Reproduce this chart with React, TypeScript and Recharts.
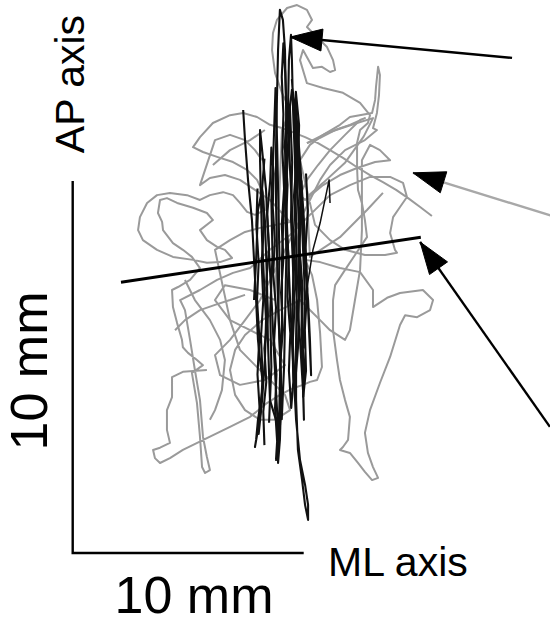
import React from "react";
import { ComposedChart, Line, XAxis, YAxis } from "recharts";

// Centre-of-pressure trajectories, [ML mm, AP mm]
const grayPath: [number, number][] = [
  [5.81, 4.92], [4.77, 4.87], [4.3, 4.73], [4.3, 4.19], [4.08, 3.84], [4.08, 3.31], [4.21, 2.96], [3.78, 2.83],
  [3.48, 2.77], [3.56, 2.55], [3.78, 2.42], [4.21, 2.55], [4.77, 2.77], [5.81, 3.09], [6.81, 3.39], [7.68, 3.66],
  [8.41, 4.03], [8.97, 4.25], [9.54, 4.43], [9.97, 4.52], [10.27, 4.6], [10.58, 4.65], [10.79, 5.0], [10.71, 5.91],
  [10.58, 6.8], [10.36, 7.47], [10.06, 7.88],
  [10.71, 7.82], [11.57, 7.66], [12.44, 7.55], [13.0, 7.07], [13.0, 6.61], [13.61, 6.86], [14.17, 6.99], [15.16, 7.07],
  [15.6, 6.8], [15.47, 6.53], [14.91, 6.34], [14.39, 6.39], [14.17, 6.13], [13.74, 5.27], [13.3, 4.57], [12.87, 3.84],
  [12.65, 3.23], [12.78, 2.69], [13.0, 2.31], [13.22, 2.02], [12.96, 1.96], [12.65, 2.18], [12.35, 2.42], [12.0, 2.69],
  [11.57, 2.77], [11.7, 2.85], [11.92, 3.04], [12.0, 3.66], [11.79, 4.11], [11.57, 4.65], [11.44, 5.19], [11.27, 5.99],
  [11.27, 6.8], [11.36, 7.2],
  [11.79, 7.61], [12.22, 8.01], [12.65, 8.41], [12.74, 8.49], [12.65, 8.95], [12.52, 9.41], [12.35, 9.76], [12.31, 10.37],
  [12.31, 11.02], [12.44, 11.37], [12.78, 11.56], [12.87, 11.77], [12.44, 12.1], [11.7, 12.37], [10.84, 12.5], [10.14, 12.63],
  [9.84, 13.25], [9.97, 13.52], [10.4, 13.04], [10.79, 13.07], [11.14, 12.93], [11.36, 12.98], [11.27, 13.25], [11.01, 13.6],
  [10.4, 13.98], [10.14, 14.14], [10.36, 14.33], [10.14, 14.6], [9.71, 14.73], [9.28, 14.65], [8.84, 14.33], [8.67, 13.98],
  [8.63, 13.52], [8.76, 12.9], [9.06, 12.37], [9.41, 11.91],
  [9.1, 11.42], [8.54, 11.51], [7.98, 11.72], [7.38, 11.83], [6.81, 11.77], [6.07, 11.56], [5.51, 11.18], [5.21, 10.91],
  [5.64, 10.78], [6.25, 10.65], [6.94, 10.51], [7.55, 10.3], [7.98, 10.03], [8.24, 9.68], [8.32, 9.22],
  [7.89, 9.09], [7.55, 9.17], [7.24, 9.41], [6.94, 9.62], [6.51, 9.7], [5.94, 9.62], [5.51, 9.49], [4.95, 9.62],
  [4.21, 9.68], [3.65, 9.62], [3.22, 9.41], [2.91, 9.03], [2.83, 8.68], [3.04, 8.41], [3.65, 8.15], [4.34, 7.96],
  [5.21, 7.88], [5.81, 7.8], [6.38, 7.82], [6.9, 7.93], [6.59, 8.15], [6.25, 8.23], [5.81, 8.41], [5.51, 8.68],
  [6.07, 8.95], [5.81, 9.14], [5.21, 9.28], [4.52, 9.41], [4.08, 9.54], [3.78, 9.49], [3.69, 9.14], [3.87, 8.9],
  [3.91, 8.68], [4.34, 8.33], [4.77, 8.15], [5.16, 7.96], [5.51, 7.66],
  [5.08, 7.34], [4.56, 7.15], [4.3, 7.07], [4.34, 6.61], [4.52, 6.18], [4.73, 5.73], [4.77, 5.53], [4.99, 5.38],
  [5.38, 5.19], [5.64, 5.05], [5.16, 4.84], [5.38, 4.03], [5.51, 3.12], [5.6, 2.31], [5.73, 2.15], [5.94, 2.23],
  [5.81, 2.58], [5.64, 3.12], [5.51, 4.11], [5.29, 4.92], [5.08, 5.73], [4.86, 6.53], [4.65, 6.8],
  [5.51, 7.07], [6.25, 7.34], [6.94, 7.53], [7.68, 7.66], [8.54, 8.15], [9.41, 8.55], [10.27, 9.09], [11.14, 9.62],
  [12.0, 9.89], [12.87, 10.11], [13.74, 10.11], [14.3, 9.95], [14.47, 9.57], [14.17, 9.3], [13.87, 9.03], [13.74, 8.6],
  [13.95, 8.15], [14.04, 8.07], [13.52, 8.01], [12.65, 8.01], [11.79, 8.15], [11.14, 8.41], [10.49, 8.82],
  [9.84, 10.56], [10.27, 10.97], [10.84, 11.24], [11.57, 11.51], [12.0, 11.72], [12.96, 11.83], [13.09, 12.18], [13.13, 12.53],
  [13.22, 13.07], [13.3, 12.85], [13.26, 12.31], [13.17, 11.83], [13.0, 11.42], [13.17, 11.37], [12.65, 11.1], [11.79, 10.83],
  [11.14, 10.43], [10.71, 10.03], [10.27, 9.49],
  [8.11, 6.8], [7.46, 6.26], [6.81, 5.73], [6.16, 5.32], [6.38, 4.78], [7.24, 4.52], [8.32, 4.65], [9.19, 5.05],
  [8.54, 5.73], [7.68, 5.99], [6.81, 6.26], [6.16, 6.8], [6.59, 7.2], [7.68, 7.07], [8.76, 6.8],
  [9.06, 11.42], [9.49, 11.32], [10.06, 11.18], [10.62, 11.02], [11.14, 10.83], [11.7, 10.62], [12.31, 10.37], [12.87, 10.16],
  [13.43, 9.97], [14.0, 9.76], [14.52, 9.54], [15.04, 9.3], [15.55, 9.06],
];

const grayPath2: [number, number][] = [
  [10.14, 11.02], [10.71, 11.16], [11.36, 11.37], [12.0, 11.51], [12.65, 11.69], [12.44, 11.64], [11.79, 11.24], [11.14, 10.83],
  [10.62, 10.43], [10.14, 10.03], [9.84, 9.62], [10.06, 9.49], [10.84, 9.89], [11.57, 10.16], [12.31, 10.35], [13.09, 10.51],
  [13.74, 10.56], [13.3, 10.83], [12.87, 10.97], [12.52, 10.56], [12.52, 9.76], [12.52, 8.68], [12.44, 7.61], [12.22, 6.8],
  [12.0, 5.99], [11.79, 5.73], [11.14, 5.99], [10.71, 6.26], [10.27, 6.53], [9.84, 6.8], [8.97, 6.53], [8.2, 6.26],
  [7.46, 5.86], [7.03, 5.46], [6.81, 4.92], [7.03, 4.25], [7.46, 3.84], [8.11, 3.58], [8.76, 3.58], [9.41, 3.84],
  [9.19, 4.25], [8.54, 4.65], [7.89, 5.05], [7.24, 5.46], [6.81, 6.26],
  [6.16, 8.15], [6.81, 8.41], [7.46, 8.63], [8.11, 8.74], [8.76, 8.82], [9.41, 8.9], [8.54, 9.49], [7.89, 9.76],
  [7.24, 10.03], [6.59, 10.16], [5.94, 10.08], [5.51, 9.89], [6.16, 11.1], [6.81, 11.24], [7.46, 11.1], [7.89, 10.83],
  [8.2, 10.56],
];

const grayPath3: [number, number][] = [
  [4.86, 7.34], [5.29, 6.8], [5.94, 6.26], [6.38, 5.73], [6.59, 5.19], [6.46, 4.38], [6.16, 3.84], [5.94, 3.58],
];

const grayPath4: [number, number][] = [
  [4.43, 5.99], [4.86, 6.26], [5.51, 6.53], [6.16, 6.67], [6.81, 6.8], [7.46, 6.94],
];

const grayPath5: [number, number][] = [
  [10.14, 11.02], [11.01, 11.29], [12.31, 11.56], [13.0, 11.69],
  [12.6, 11.2], [11.8, 10.5], [10.84, 9.95], [10.14, 9.57],
  [10.27, 7.96], [11.57, 8.49], [12.74, 9.22], [13.43, 9.68],
];

const grayPath6: [number, number][] = [
  [6.07, 10.43], [6.81, 10.83], [7.68, 11.1], [8.32, 11.37],
];

const blackPath: [number, number][] = [
  [7.38, 11.91], [7.46, 11.1], [7.59, 10.03], [7.76, 8.95], [7.85, 7.88], [7.94, 6.8], [8.02, 5.73], [8.11, 5.19],
  [8.24, 4.52], [8.15, 4.11], [8.02, 3.58], [7.94, 3.04], [7.89, 2.85], [8.02, 3.31], [8.2, 4.11], [8.32, 5.19],
  [8.37, 6.26], [8.28, 7.34], [8.2, 8.41], [8.15, 9.49], [8.11, 10.56], [8.11, 11.37], [8.2, 10.83], [8.37, 9.76],
  [8.45, 8.68], [8.54, 7.61], [8.63, 6.53], [8.71, 5.46], [8.8, 4.38], [8.89, 3.31], [8.89, 2.42], [8.97, 3.04],
  [9.02, 4.11], [8.97, 5.46], [8.89, 6.8], [8.84, 8.15], [8.8, 9.49], [8.8, 10.83], [8.84, 12.18], [8.89, 13.52],
  [8.97, 14.6], [9.1, 14.33], [9.19, 13.52], [9.23, 12.18], [9.28, 10.83], [9.23, 9.49], [9.32, 8.15], [9.41, 6.8],
  [9.49, 5.73], [9.58, 4.65], [9.67, 3.58], [9.84, 2.5], [10.06, 1.83], [10.19, 1.29], [10.19, 0.89], [10.06, 1.29],
  [9.93, 1.96], [9.75, 2.77], [9.67, 4.11], [9.67, 5.73], [9.71, 7.34], [9.67, 8.95], [9.62, 10.56], [9.54, 11.91],
  [9.49, 13.25], [9.45, 13.93], [9.36, 13.25], [9.32, 11.91], [9.41, 10.3], [9.54, 8.68], [9.67, 7.07], [9.84, 5.73],
  [9.97, 4.38], [10.01, 3.58], [9.97, 4.65], [9.93, 6.26], [9.84, 7.88], [9.75, 9.49], [9.67, 10.83], [9.58, 11.91],
  [9.49, 12.72], [9.67, 11.37], [9.84, 9.76], [10.01, 8.15], [10.19, 6.8], [10.27, 5.73], [10.32, 4.78], [10.23, 5.99],
  [10.14, 7.34], [10.01, 8.95], [9.84, 10.56], [9.67, 11.91], [9.49, 12.45], [9.23, 11.1], [9.15, 9.49], [9.06, 7.88],
  [9.06, 6.26], [8.97, 4.65], [8.93, 3.31], [8.54, 4.11], [8.45, 5.73], [8.41, 7.34], [8.32, 8.95], [8.2, 9.76],
  [8.02, 9.22], [7.94, 7.88], [7.85, 6.8],
];

const blackPath2: [number, number][] = [
  [8.3, 2.9], [8.25, 3.8], [8.38, 4.6], [8.3, 5.5], [8.45, 6.4], [8.38, 7.3], [8.5, 8.2], [8.42, 9.1], [8.55, 10.0], [8.6, 10.9],
  [8.7, 10.2], [8.66, 9.3], [8.75, 8.4], [8.68, 7.5], [8.8, 6.6], [8.72, 5.7], [8.82, 4.8], [8.76, 3.9], [8.85, 3.0], [8.8, 2.5],
  [8.95, 3.2], [9.05, 4.2], [8.98, 5.1], [9.1, 6.0], [9.02, 7.0], [9.12, 7.9], [9.05, 8.8], [9.15, 9.8], [9.08, 10.8], [9.12, 11.8],
  [9.05, 12.8], [9.12, 13.7], [9.2, 12.9], [9.26, 11.9], [9.18, 10.9], [9.3, 9.9], [9.24, 8.9], [9.35, 7.9], [9.3, 6.9], [9.42, 5.9],
  [9.36, 4.9], [9.46, 3.9], [9.55, 4.6], [9.52, 5.6], [9.6, 6.6], [9.55, 7.6], [9.65, 8.6], [9.58, 9.6], [9.7, 10.6], [9.62, 11.6],
  [9.66, 12.4], [9.8, 11.5], [9.76, 10.4], [9.88, 9.3], [9.82, 8.2], [9.95, 7.1], [9.9, 6.0], [10.02, 5.0], [9.98, 4.2],
  [10.1, 4.9], [10.05, 6.0], [10.15, 7.1], [10.08, 8.2], [10.18, 9.2], [10.1, 10.2],
];

const blackPath3: [number, number][] = [
  [8.0, 9.8], [7.95, 8.8], [8.05, 7.8], [7.98, 6.8], [8.08, 5.8], [8.0, 4.8], [8.1, 3.8], [8.05, 3.2],
  [8.15, 3.8], [8.22, 4.8], [8.15, 5.8], [8.25, 6.8], [8.18, 7.8], [8.28, 8.8], [8.2, 9.8], [8.3, 10.6],
];

const blackPath4: [number, number][] = [
  [8.5, 3.5], [8.6, 5.0], [8.55, 6.5], [8.65, 8.0], [8.6, 9.5], [8.7, 11.0], [8.78, 12.5], [8.85, 11.0],
  [8.9, 9.5], [8.95, 8.0], [8.9, 6.5], [9.0, 5.0], [9.05, 3.6], [9.15, 5.0], [9.2, 6.5], [9.25, 8.0],
  [9.2, 9.5], [9.35, 11.0], [9.4, 12.0], [9.5, 10.5], [9.45, 9.0], [9.55, 7.5], [9.5, 6.0], [9.62, 4.5],
  [9.75, 5.5], [9.8, 7.0], [9.78, 8.5], [9.9, 10.0], [9.95, 8.5], [10.05, 7.0], [10.0, 5.5],
];

const blackSpur: [number, number][] = [
  [10.06, 6.8], [10.4, 8.15], [10.71, 8.87], [11.1, 10.03], [11.14, 9.41],
];

// Straight reference line through the sway
const axisLine: [number, number][] = [[2.09, 7.28], [15.07, 8.49]];

// Scale bar: 10 mm in each direction
const scaleBar: [number, number][] = [[0, 10], [0, 0], [10, 0]];

// Arrows: [tail, tip]
const arrowTop: [number, number][] = [[19.02, 13.31], [9.41, 13.87]];
const arrowGray: [number, number][] = [[20.75, 9.06], [14.73, 10.22]];
const arrowLine: [number, number][] = [[20.66, 3.39], [15.04, 8.36]];

const ML_DOMAIN: [number, number] = [-3.1472, 20.6623];
const AP_DOMAIN: [number, number] = [-2.0161, 14.8656];

const toXY = (arr: [number, number][]) => arr.map(([x, y]) => ({ x, y }));

const FONT = "'Liberation Sans', Arial, Helvetica, sans-serif";

const arrowHead = (color: string) => (props: any) => {
  const { index, cx, cy, points } = props;
  if (index !== 1 || !points || points.length < 2) return <g key={`d${index}`} />;
  const tail = points[0];
  const dx = tail.x - cx;
  const dy = tail.y - cy;
  const len = Math.sqrt(dx * dx + dy * dy) || 1;
  const ux = dx / len;
  const uy = dy / len;
  const L = 32;
  const W = 11;
  const bx = cx + ux * L;
  const by = cy + uy * L;
  const nx = -uy;
  const ny = ux;
  const d = `M${cx},${cy} L${bx + nx * W},${by + ny * W} L${bx - nx * W},${by - ny * W} Z`;
  return <path key={`d${index}`} d={d} fill={color} stroke={color} strokeWidth={1} />;
};

const traj = (arr: [number, number][], color: string, width: number, key: string) => (
  <Line key={key} data={toXY(arr)} dataKey="y" type="linear" stroke={color} strokeWidth={width}
    dot={false} activeDot={false} isAnimationActive={false} strokeLinejoin="round" />
);

const GRAY = "#9a9a9a";
const BLACK = "#111";

export default function App() {
  return (
    <div style={{ position: "absolute", left: 0, top: 0, width: 550, height: 628, background: "#fff" }}>
      <ComposedChart width={550} height={628} margin={{ top: 0, right: 0, bottom: 0, left: 0 }}>
        <XAxis type="number" dataKey="x" domain={ML_DOMAIN} allowDataOverflow hide />
        <YAxis type="number" dataKey="y" domain={AP_DOMAIN} allowDataOverflow hide />
        {traj(grayPath, GRAY, 2, "g1")}
        {traj(grayPath2, GRAY, 2, "g2")}
        {traj(grayPath3, GRAY, 2, "g3")}
        {traj(grayPath4, GRAY, 2, "g4")}
        {traj(grayPath5, GRAY, 2, "g5")}
        {traj(grayPath6, GRAY, 2, "g6")}
        {traj(blackPath, BLACK, 2.1, "b1")}
        {traj(blackPath2, BLACK, 2.1, "b2")}
        {traj(blackPath3, BLACK, 2.1, "b3")}
        {traj(blackPath4, BLACK, 2.1, "b4")}
        {traj(blackSpur, BLACK, 1.5, "b5")}
        <Line data={toXY(axisLine)} dataKey="y" type="linear" stroke="#000" strokeWidth={3}
          dot={false} activeDot={false} isAnimationActive={false} />
        <Line data={toXY(scaleBar)} dataKey="y" type="linear" stroke="#000" strokeWidth={2.4}
          dot={false} activeDot={false} isAnimationActive={false} strokeLinejoin="miter" />
        <Line data={toXY(arrowTop)} dataKey="y" type="linear" stroke="#000" strokeWidth={2.4}
          dot={arrowHead("#000")} activeDot={false} isAnimationActive={false} />
        <Line data={toXY(arrowGray)} dataKey="y" type="linear" stroke="#a8a8a8" strokeWidth={2.4}
          dot={arrowHead("#000")} activeDot={false} isAnimationActive={false} />
        <Line data={toXY(arrowLine)} dataKey="y" type="linear" stroke="#000" strokeWidth={2.4}
          dot={arrowHead("#000")} activeDot={false} isAnimationActive={false} />
      </ComposedChart>
      <svg width={550} height={628} style={{ position: "absolute", left: 0, top: 0, pointerEvents: "none" }}>
        <text x={84} y={84} transform="rotate(-90 84 84)" textAnchor="middle" fontSize={41} fontFamily={FONT} fill="#000">AP axis</text>
        <text x={47} y={371} transform="rotate(-90 47 371)" textAnchor="middle" fontSize={52} fontFamily={FONT} fill="#000">10 mm</text>
        <text x={194} y={613} textAnchor="middle" fontSize={52} fontFamily={FONT} fill="#000">10 mm</text>
        <text x={328} y={576} textAnchor="start" fontSize={41} fontFamily={FONT} fill="#000">ML axis</text>
      </svg>
    </div>
  );
}
